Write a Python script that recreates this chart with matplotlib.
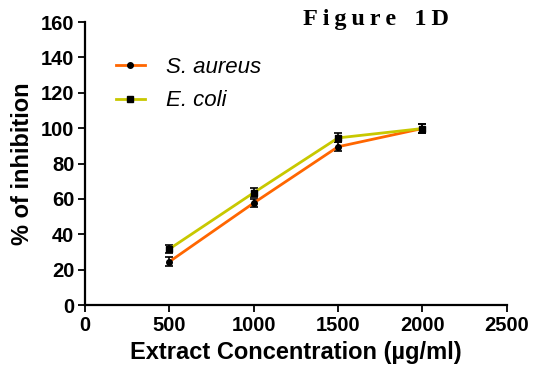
import matplotlib
matplotlib.use('Agg')
import matplotlib.pyplot as plt

# values
conc = [500, 1000, 1500, 2000]
s_aureus = [24.5, 57.7, 89.5, 99.8]
s_aureus_err = [2.5, 2.5, 2.5, 2.5]
e_coli = [31.7, 63.5, 94.5, 99.8]
e_coli_err = [2.5, 2.5, 2.5, 2.5]

plt.rcParams['font.family'] = ['Liberation Sans', 'DejaVu Sans']

fig = plt.figure(figsize=(5.34, 3.73), dpi=100)
ax = fig.add_axes([0.159, 0.182, 0.790, 0.759])

# error bars first, lines + markers on top (legend shows lines only)
ax.errorbar(conc, s_aureus, yerr=s_aureus_err, fmt='none', ecolor='black',
            elinewidth=1.2, capsize=3, capthick=1.2)
ax.errorbar(conc, e_coli, yerr=e_coli_err, fmt='none', ecolor='black',
            elinewidth=1.2, capsize=3, capthick=1.2)
ax.plot(conc, s_aureus, color='#FF6600', lw=2, marker='o', ms=4,
        mfc='black', mec='black', label='S. aureus')
ax.plot(conc, e_coli, color='#C8C800', lw=2, marker='s', ms=4.5,
        mfc='black', mec='black', label='E. coli')

ax.set_xlim(0, 2500)
ax.set_ylim(0, 160)
ax.set_xticks([0, 500, 1000, 1500, 2000, 2500])
ax.set_yticks(range(0, 161, 20))

for s in ['top', 'right']:
    ax.spines[s].set_visible(False)
for s in ['left', 'bottom']:
    ax.spines[s].set_linewidth(1.6)
ax.tick_params(direction='out', length=5, width=1.3, pad=2.5, labelsize=14.5)
for lbl in ax.get_xticklabels() + ax.get_yticklabels():
    lbl.set_fontweight('bold')

ax.set_xlabel('Extract Concentration (µg/ml)', fontsize=17, fontweight='bold', labelpad=5)
ax.set_ylabel('% of inhibition', fontsize=17, fontweight='bold', labelpad=5)

ax.legend(loc='upper left', bbox_to_anchor=(0.073, 0.876), frameon=False,
          borderpad=0, borderaxespad=0, handlelength=1.3, handletextpad=0.95,
          labelspacing=0.55, prop={'style': 'italic', 'size': 16})

fig.text(0.567, 0.933, 'F\u2009i\u2009g\u2009u\u2009r\u2009e\u2002 1\u2009D',
         family=['Liberation Serif', 'DejaVu Serif'], fontweight='bold',
         fontsize=17.5, va='baseline')

fig.savefig('out.png', dpi=100)
